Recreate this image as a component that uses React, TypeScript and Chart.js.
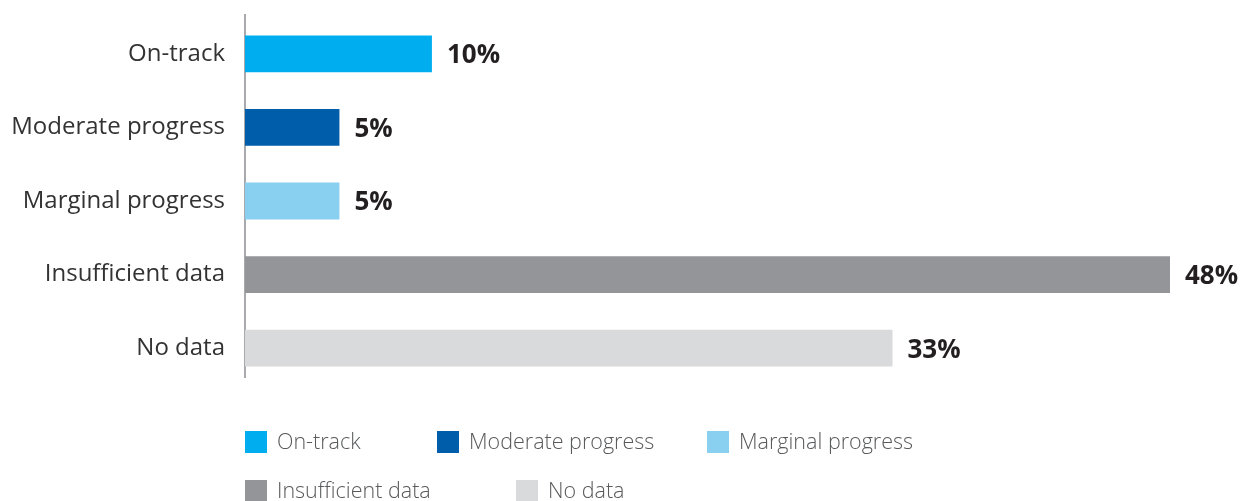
import React, { useEffect, useRef } from "react";
import { Chart, registerables } from "chart.js";

Chart.register(...registerables);

const categories = ["On-track", "Moderate progress", "Marginal progress", "Insufficient data", "No data"];
const values = [9.7, 4.9, 4.9, 48.0, 33.6];
const valueLabels = ["10%", "5%", "5%", "48%", "33%"];
const colors = ["#00AEEF", "#005DAA", "#89CFEF", "#939598", "#D9DADC"];
const legendRows = [[0, 1, 2], [3, 4]];
const legendOffsets = [[0, 192, 462], [0, 271]];

const FONT = "'Open Sans', 'Noto Sans', sans-serif";

export default function App() {
  const ref = useRef<HTMLCanvasElement>(null);
  useEffect(() => {
    if (!ref.current) return;
    const axisPlugin = {
      id: "axisLine",
      beforeDatasetsDraw(chart: any) {
        const ctx = chart.ctx;
        const { left, top, bottom } = chart.chartArea;
        ctx.save();
        ctx.strokeStyle = "#A7A9AC";
        ctx.lineWidth = 2;
        ctx.beginPath();
        ctx.moveTo(left, top - 3);
        ctx.lineTo(left, bottom - 7);
        ctx.stroke();
        ctx.restore();
      },
    };
    const labelPlugin = {
      id: "valueLabels",
      afterDatasetsDraw(chart: any) {
        const ctx = chart.ctx;
        const meta = chart.getDatasetMeta(0);
        ctx.save();
        ctx.font = `bold 26px ${FONT}`;
        ctx.fillStyle = "#231F20";
        ctx.textAlign = "left";
        ctx.textBaseline = "middle";
        meta.data.forEach((bar: any, i: number) => {
          ctx.fillText(valueLabels[i], bar.x + 15, bar.y + 2);
        });
        ctx.restore();
      },
    };
    const legendPlugin = {
      id: "customLegend",
      afterDraw(chart: any) {
        const ctx = chart.ctx;
        const left = chart.chartArea.left;
        const rowY = [442, 491];
        ctx.save();
        ctx.font = `300 21.5px ${FONT}`;
        ctx.textBaseline = "middle";
        ctx.textAlign = "left";
        legendRows.forEach((row, r) => {
          row.forEach((idx, k) => {
            const x = left + legendOffsets[r][k];
            const y = rowY[r];
            ctx.fillStyle = colors[idx];
            ctx.fillRect(x, y - 11, 22, 22);
            ctx.fillStyle = "#58595B";
            ctx.fillText(categories[idx], x + 32, y + 1);
          });
        });
        ctx.restore();
      },
    };
    const chart = new Chart(ref.current, {
      type: "bar",
      data: {
        labels: categories,
        datasets: [
          {
            data: values,
            backgroundColor: colors,
            barPercentage: 0.5,
            categoryPercentage: 1,
          },
        ],
      },
      options: {
        indexAxis: "y",
        animation: false,
        responsive: false,
        maintainAspectRatio: false,
        layout: { padding: { top: 17, bottom: 116, right: 76, left: 0 } },
        plugins: { legend: { display: false }, tooltip: { enabled: false } },
        scales: {
          x: { display: false, min: 0, max: 48 },
          y: {
            afterFit: (s: any) => {
              s.width = 245;
              s.paddingTop = 0;
              s.paddingBottom = 0;
            },
            grid: { display: false, drawTicks: false },
            border: { display: false },
            ticks: {
              padding: 20,
              color: "#333333",
              font: { family: FONT, size: 24 },
            },
          },
        },
      },
      plugins: [axisPlugin, labelPlugin, legendPlugin],
    });
    return () => chart.destroy();
  }, []);
  return (
    <div style={{ position: "absolute", left: 0, top: 0, width: 1246, height: 501, background: "#fff" }}>
      <canvas ref={ref} width={1246} height={501} style={{ width: 1246, height: 501 }} />
    </div>
  );
}
